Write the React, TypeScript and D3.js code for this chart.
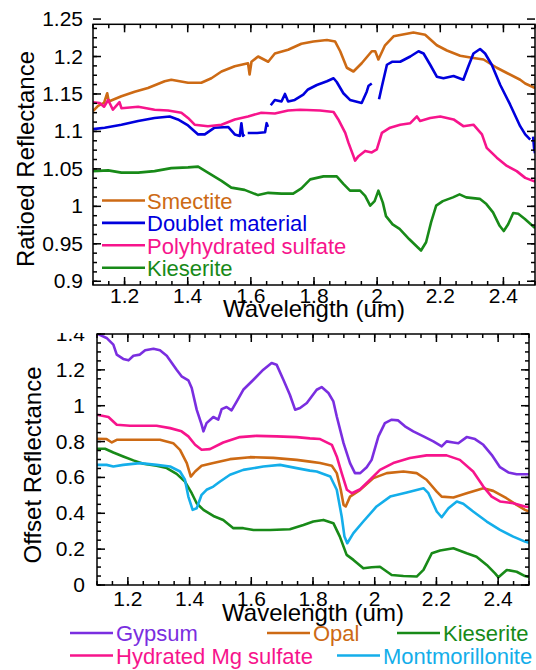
import React from 'react';
import * as d3 from 'd3';

type Pt = [number, number];

const FONT = "Arial, 'Liberation Sans', sans-serif";

// ---- top panel: ratioed spectra ----
const smectite: Pt[] = [
  [1.1, 1.127], [1.116, 1.134], [1.135, 1.138], [1.145, 1.151], [1.15, 1.14], [1.19, 1.147],
  [1.232, 1.153], [1.274, 1.158], [1.327, 1.167], [1.348, 1.169], [1.401, 1.165], [1.443, 1.165],
  [1.475, 1.171], [1.507, 1.18], [1.549, 1.187], [1.591, 1.191], [1.596, 1.176], [1.602, 1.193],
  [1.623, 1.2], [1.655, 1.193], [1.676, 1.204], [1.718, 1.209], [1.76, 1.217], [1.798, 1.22],
  [1.841, 1.222], [1.867, 1.22], [1.883, 1.207], [1.904, 1.185], [1.925, 1.18], [1.951, 1.191],
  [1.983, 1.207], [1.994, 1.207], [2.004, 1.196], [2.025, 1.215], [2.052, 1.227], [2.115, 1.232],
  [2.152, 1.229], [2.189, 1.215], [2.221, 1.208], [2.263, 1.201], [2.305, 1.198], [2.337, 1.196],
  [2.379, 1.185], [2.411, 1.178], [2.453, 1.169], [2.469, 1.164], [2.5, 1.158],
];

// doublet material has gaps, so it is kept as separate pieces
const doublet: Pt[][] = [
  [
    [1.1, 1.103], [1.137, 1.105], [1.19, 1.109], [1.243, 1.114], [1.295, 1.118], [1.343, 1.12],
    [1.369, 1.116], [1.401, 1.108], [1.433, 1.096], [1.454, 1.096], [1.485, 1.105], [1.528, 1.106],
    [1.549, 1.096], [1.565, 1.094], [1.57, 1.111], [1.575, 1.094], [1.58, 1.096],
  ],
  [[1.59, 1.098], [1.62, 1.098], [1.645, 1.099], [1.65, 1.111], [1.654, 1.106]],
  [
    [1.663, 1.135], [1.676, 1.142], [1.697, 1.14], [1.708, 1.15], [1.718, 1.14], [1.739, 1.142],
    [1.766, 1.149], [1.781, 1.156], [1.809, 1.162], [1.841, 1.167], [1.862, 1.171], [1.872, 1.166],
    [1.893, 1.151], [1.914, 1.142], [1.951, 1.138], [1.967, 1.153], [1.973, 1.161], [1.983, 1.164],
  ],
  [
    [2.006, 1.143], [2.015, 1.16], [2.031, 1.189], [2.047, 1.193], [2.073, 1.193], [2.105, 1.2],
    [2.131, 1.207], [2.147, 1.204], [2.168, 1.189], [2.189, 1.173], [2.21, 1.171], [2.242, 1.174],
    [2.273, 1.169], [2.289, 1.187], [2.305, 1.204], [2.326, 1.21], [2.342, 1.204], [2.363, 1.189],
    [2.39, 1.162], [2.421, 1.136], [2.453, 1.107], [2.469, 1.096], [2.485, 1.089],
  ],
  [[2.494, 1.093], [2.497, 1.078], [2.5, 1.071]],
];

const polySulfate: Pt[] = [
  [1.1, 1.139], [1.121, 1.138], [1.135, 1.133], [1.148, 1.142], [1.163, 1.129], [1.184, 1.139],
  [1.19, 1.131], [1.243, 1.133], [1.295, 1.129], [1.338, 1.128], [1.38, 1.125], [1.401, 1.118],
  [1.422, 1.109], [1.464, 1.107], [1.507, 1.109], [1.549, 1.116], [1.591, 1.12], [1.633, 1.125],
  [1.676, 1.124], [1.718, 1.128], [1.756, 1.129], [1.819, 1.128], [1.862, 1.126], [1.877, 1.116],
  [1.899, 1.098], [1.909, 1.085], [1.925, 1.067], [1.93, 1.061], [1.941, 1.067], [1.962, 1.074],
  [1.983, 1.072], [1.999, 1.076], [2.015, 1.098], [2.041, 1.105], [2.073, 1.109], [2.105, 1.111],
  [2.126, 1.12], [2.136, 1.114], [2.168, 1.118], [2.2, 1.12], [2.242, 1.116], [2.273, 1.107],
  [2.305, 1.109], [2.332, 1.096], [2.347, 1.078], [2.379, 1.065], [2.411, 1.054], [2.442, 1.047],
  [2.469, 1.038], [2.5, 1.033],
];

const kieseriteTop: Pt[] = [
  [1.1, 1.047], [1.148, 1.048], [1.19, 1.045], [1.243, 1.045], [1.295, 1.047], [1.348, 1.051],
  [1.401, 1.052], [1.433, 1.053], [1.464, 1.045], [1.507, 1.034], [1.538, 1.025], [1.58, 1.022],
  [1.623, 1.015], [1.655, 1.018], [1.697, 1.017], [1.734, 1.017], [1.76, 1.024], [1.788, 1.036],
  [1.83, 1.04], [1.872, 1.04], [1.893, 1.03], [1.914, 1.021], [1.946, 1.021], [1.962, 1.014],
  [1.978, 1.001], [1.992, 1.007], [2.004, 1.021], [2.018, 1.005], [2.028, 0.987], [2.049, 0.976],
  [2.071, 0.97], [2.102, 0.956], [2.129, 0.945], [2.139, 0.941], [2.155, 0.952], [2.171, 0.979],
  [2.187, 1.001], [2.208, 1.007], [2.24, 1.012], [2.261, 1.016], [2.282, 1.012], [2.325, 1.01],
  [2.346, 1.003], [2.367, 0.992], [2.388, 0.974], [2.401, 0.967], [2.415, 0.976], [2.431, 0.991],
  [2.447, 0.99], [2.468, 0.983], [2.5, 0.971],
];

// ---- bottom panel: library spectra, offset ----
const gypsum: Pt[] = [
  [1.1, 1.402], [1.131, 1.378], [1.153, 1.341], [1.164, 1.285], [1.185, 1.261], [1.202, 1.253],
  [1.218, 1.279], [1.239, 1.285], [1.256, 1.309], [1.283, 1.318], [1.304, 1.309], [1.326, 1.279],
  [1.358, 1.201], [1.374, 1.164], [1.396, 1.142], [1.407, 1.099], [1.423, 0.978], [1.439, 0.894],
  [1.445, 0.857], [1.455, 0.903], [1.477, 0.937], [1.493, 0.922], [1.504, 0.981], [1.52, 0.993],
  [1.536, 0.974], [1.553, 1.024], [1.574, 1.089], [1.607, 1.145], [1.639, 1.201], [1.666, 1.238],
  [1.682, 1.229], [1.704, 1.145], [1.725, 1.061], [1.742, 0.978], [1.758, 0.987], [1.78, 1.015],
  [1.812, 1.089], [1.828, 1.104], [1.85, 1.071], [1.866, 1.024], [1.877, 0.94], [1.899, 0.791],
  [1.92, 0.68], [1.936, 0.624], [1.953, 0.624], [1.974, 0.657], [1.99, 0.698], [2.012, 0.829],
  [2.033, 0.903], [2.055, 0.922], [2.076, 0.918], [2.098, 0.885], [2.125, 0.857], [2.158, 0.829],
  [2.19, 0.801], [2.217, 0.773], [2.233, 0.801], [2.255, 0.795], [2.271, 0.791], [2.298, 0.825],
  [2.325, 0.814], [2.352, 0.782], [2.379, 0.726], [2.406, 0.657], [2.433, 0.628], [2.46, 0.618],
  [2.487, 0.618], [2.5, 0.618],
];

const opal: Pt[] = [
  [1.1, 0.816], [1.131, 0.814], [1.148, 0.795], [1.164, 0.81], [1.239, 0.81], [1.304, 0.81],
  [1.347, 0.791], [1.369, 0.754], [1.391, 0.68], [1.404, 0.605], [1.418, 0.633], [1.439, 0.665],
  [1.477, 0.68], [1.531, 0.702], [1.596, 0.713], [1.671, 0.709], [1.747, 0.698], [1.79, 0.688],
  [1.823, 0.68], [1.861, 0.665], [1.877, 0.624], [1.89, 0.531], [1.899, 0.447], [1.906, 0.438],
  [1.92, 0.493], [1.953, 0.531], [1.996, 0.596], [2.039, 0.624], [2.093, 0.633], [2.136, 0.624],
  [2.168, 0.587], [2.201, 0.521], [2.217, 0.493], [2.255, 0.488], [2.298, 0.512], [2.352, 0.54],
  [2.384, 0.525], [2.427, 0.484], [2.46, 0.447], [2.487, 0.419], [2.5, 0.41],
];

const kieseriteLib: Pt[] = [
  [1.1, 0.76], [1.126, 0.76], [1.153, 0.739], [1.185, 0.717], [1.218, 0.695], [1.25, 0.676],
  [1.293, 0.665], [1.326, 0.652], [1.358, 0.62], [1.385, 0.577], [1.407, 0.512], [1.423, 0.456],
  [1.445, 0.419], [1.477, 0.385], [1.509, 0.363], [1.542, 0.317], [1.574, 0.317], [1.607, 0.307],
  [1.661, 0.307], [1.725, 0.311], [1.769, 0.335], [1.801, 0.354], [1.834, 0.363], [1.866, 0.345],
  [1.887, 0.27], [1.909, 0.168], [1.931, 0.14], [1.963, 0.093], [1.99, 0.099], [2.017, 0.102],
  [2.055, 0.056], [2.093, 0.05], [2.136, 0.047], [2.158, 0.084], [2.185, 0.177], [2.212, 0.192],
  [2.255, 0.205], [2.298, 0.177], [2.33, 0.158], [2.363, 0.112], [2.39, 0.065], [2.401, 0.043],
  [2.428, 0.084], [2.46, 0.074], [2.487, 0.05], [2.5, 0.045],
];

const mgSulfate: Pt[] = [
  [1.1, 0.95], [1.137, 0.937], [1.164, 0.894], [1.207, 0.888], [1.293, 0.888], [1.337, 0.875],
  [1.374, 0.857], [1.396, 0.829], [1.418, 0.782], [1.439, 0.754], [1.466, 0.758], [1.509, 0.795],
  [1.563, 0.825], [1.617, 0.832], [1.682, 0.829], [1.747, 0.825], [1.79, 0.818], [1.823, 0.814],
  [1.861, 0.782], [1.877, 0.717], [1.893, 0.624], [1.91, 0.531], [1.926, 0.512], [1.953, 0.534],
  [1.985, 0.587], [2.017, 0.642], [2.06, 0.68], [2.114, 0.708], [2.168, 0.723], [2.233, 0.723],
  [2.276, 0.698], [2.319, 0.633], [2.352, 0.549], [2.379, 0.493], [2.406, 0.466], [2.449, 0.456],
  [2.487, 0.438], [2.5, 0.435],
];

const montmorillonite: Pt[] = [
  [1.1, 0.67], [1.131, 0.67], [1.153, 0.661], [1.185, 0.67], [1.239, 0.68], [1.293, 0.67],
  [1.337, 0.661], [1.369, 0.633], [1.385, 0.587], [1.396, 0.493], [1.41, 0.419], [1.423, 0.428],
  [1.439, 0.503], [1.455, 0.531], [1.477, 0.549], [1.499, 0.577], [1.531, 0.615], [1.574, 0.642],
  [1.639, 0.661], [1.693, 0.67], [1.747, 0.652], [1.79, 0.638], [1.812, 0.633], [1.856, 0.605],
  [1.877, 0.531], [1.893, 0.382], [1.902, 0.27], [1.911, 0.233], [1.931, 0.289], [1.963, 0.354],
  [2.006, 0.438], [2.05, 0.493], [2.104, 0.516], [2.158, 0.54], [2.174, 0.512], [2.201, 0.41],
  [2.217, 0.378], [2.239, 0.428], [2.266, 0.466], [2.287, 0.453], [2.319, 0.41], [2.363, 0.354],
  [2.406, 0.307], [2.449, 0.27], [2.487, 0.242], [2.5, 0.235],
];

const C = {
  orange: '#cd6a14',
  blue: '#0000dd',
  pink: '#f7148c',
  green: '#188a18',
  purple: '#7a2ee0',
  sky: '#14aeea',
};

const topSeries = [
  { name: 'Smectite', color: C.orange, parts: [smectite] },
  { name: 'Doublet material', color: C.blue, parts: doublet },
  { name: 'Polyhydrated sulfate', color: C.pink, parts: [polySulfate] },
  { name: 'Kieserite', color: C.green, parts: [kieseriteTop] },
];

const bottomSeries = [
  { name: 'Gypsum', color: C.purple, parts: [gypsum] },
  { name: 'Opal', color: C.orange, parts: [opal] },
  { name: 'Kieserite', color: C.green, parts: [kieseriteLib] },
  { name: 'Hydrated Mg sulfate', color: C.pink, parts: [mgSulfate] },
  { name: 'Montmorillonite', color: C.sky, parts: [montmorillonite] },
];

// bottom legend placement: [lineStart, row]
const bottomLegendPos: [number, number][] = [[70, 0], [267, 0], [397, 0], [70, 1], [337, 1]];

const fmt = (v: number) => String(+v.toFixed(3));

type Series = { name: string; color: string; parts: Pt[][] };

function Panel(props: {
  id: string;
  x: d3.ScaleLinear<number, number>;
  y: d3.ScaleLinear<number, number>;
  series: Series[];
  xMajor: number[];
  xMinor: number[];
  yMajor: number[];
  yMinor: number[];
  xLabelY: number;
  yLabelGap: number;
  xTitleY: number;
  yTitle: string;
  yTitleX: number;
  yTitleY: number;
  labelClipTop: number;
}) {
  const { id, x, y, series } = props;
  const [x0, x1] = x.range();
  const [y0, y1] = y.range(); // y0 bottom, y1 top
  const line = d3.line<Pt>().x(d => x(d[0])).y(d => y(d[1]));
  const maj = 8, min = 4;
  return (
    <g>
      <defs>
        <clipPath id={`${id}-plot`}>
          <rect x={x0} y={y1} width={x1 - x0} height={y0 - y1} />
        </clipPath>
        <clipPath id={`${id}-lab`}>
          <rect x={0} y={props.labelClipTop} width={536} height={670} />
        </clipPath>
      </defs>
      <g clipPath={`url(#${id}-plot)`} fill="none" strokeWidth={2.6} strokeLinejoin="round">
        {series.map(s =>
          s.parts.map((p, i) => <path key={s.name + i} d={line(p) || ''} stroke={s.color} />)
        )}
      </g>
      <g stroke="#000" strokeWidth={1.5}>
        <rect x={x0} y={y1} width={x1 - x0} height={y0 - y1} fill="none" />
        {props.xMinor.map(v => (
          <g key={'xm' + v}>
            <line x1={x(v)} x2={x(v)} y1={y0} y2={y0 - min} />
            <line x1={x(v)} x2={x(v)} y1={y1} y2={y1 + min} />
          </g>
        ))}
        {props.xMajor.map(v => (
          <g key={'xM' + v}>
            <line x1={x(v)} x2={x(v)} y1={y0} y2={y0 - maj} />
            <line x1={x(v)} x2={x(v)} y1={y1} y2={y1 + maj} />
          </g>
        ))}
        {props.yMinor.map(v => (
          <g key={'ym' + v}>
            <line x1={x0} x2={x0 + min} y1={y(v)} y2={y(v)} />
            <line x1={x1} x2={x1 - min} y1={y(v)} y2={y(v)} />
          </g>
        ))}
        {props.yMajor.map(v => (
          <g key={'yM' + v}>
            <line x1={x0} x2={x0 + maj} y1={y(v)} y2={y(v)} />
            <line x1={x1} x2={x1 - maj} y1={y(v)} y2={y(v)} />
          </g>
        ))}
      </g>
      <g fontFamily={FONT} fontSize={21} fill="#000" clipPath={`url(#${id}-lab)`}>
        {props.yMajor.map(v => (
          <text key={'yl' + v} x={x0 - props.yLabelGap} y={y(v) + 7} textAnchor="end">
            {fmt(v)}
          </text>
        ))}
        {props.xMajor.map(v => (
          <text key={'xl' + v} x={x(v)} y={props.xLabelY} textAnchor="middle">
            {fmt(v)}
          </text>
        ))}
      </g>
      <g fontFamily={FONT} fontSize={24} fill="#000">
        <text x={(x0 + x1) / 2} y={props.xTitleY} textAnchor="middle">
          Wavelength (um)
        </text>
        <text
          transform={`translate(${props.yTitleX},${props.yTitleY}) rotate(-90)`}
          textAnchor="middle"
        >
          {props.yTitle}
        </text>
      </g>
    </g>
  );
}

export default function App() {
  const xTop = d3.scaleLinear().domain([1.1, 2.5]).range([93, 535]);
  const yTop = d3.scaleLinear().domain([0.895, 1.243]).range([285, 24.3]);
  const xBot = d3.scaleLinear().domain([1.1, 2.5]).range([97, 529]);
  const yBot = d3.scaleLinear().domain([0, 1.4]).range([585, 334]);

  const xMajor = xTop.ticks(7).filter(v => v > 1.1 && v < 2.5);
  const xMinor = d3.range(1.1, 2.5001, 0.05).map(v => +v.toFixed(3));
  const yTopMajor = d3.range(0.9, 1.2501, 0.05).map(v => +v.toFixed(3));
  const yTopMinor = d3.range(0.9, 1.2401, 0.0125).map(v => +v.toFixed(4));
  const yBotMajor = d3.range(0, 1.4001, 0.2).map(v => +v.toFixed(3));
  const yBotMinor = d3.range(0, 1.4001, 0.05).map(v => +v.toFixed(3));

  return (
    <svg
      width={536}
      height={670}
      style={{ position: 'absolute', left: 0, top: 0, background: '#fff' }}
    >
      <rect width={536} height={670} fill="#fff" />
      <Panel
        id="top"
        x={xTop}
        y={yTop}
        series={topSeries}
        xMajor={xMajor}
        xMinor={xMinor}
        yMajor={yTopMajor}
        yMinor={yTopMinor.filter(v => v >= 0.895)}
        xLabelY={303}
        yLabelGap={10}
        xTitleY={317}
        yTitle="Ratioed Reflectance"
        yTitleX={34}
        yTitleY={159}
        labelClipTop={0}
      />
      <g fontFamily={FONT} fontSize={22}>
        {topSeries.map((s, i) => {
          const base = 209 + i * 22.4;
          return (
            <g key={s.name}>
              <line x1={102} x2={145} y1={base - 8.5} y2={base - 8.5} stroke={s.color} strokeWidth={2.6} />
              <text x={147} y={base} fill={s.color}>
                {s.name}
              </text>
            </g>
          );
        })}
      </g>
      <Panel
        id="bot"
        x={xBot}
        y={yBot}
        series={bottomSeries}
        xMajor={xMajor}
        xMinor={xMinor}
        yMajor={yBotMajor}
        yMinor={yBotMinor}
        xLabelY={606}
        yLabelGap={12}
        xTitleY={621}
        yTitle="Offset Reflectance"
        yTitleX={41}
        yTitleY={465}
        labelClipTop={333}
      />
      <g fontFamily={FONT} fontSize={22}>
        {bottomSeries.map((s, i) => {
          const [lx, row] = bottomLegendPos[i];
          const base = 641 + row * 22.5;
          return (
            <g key={s.name}>
              <line x1={lx} x2={lx + 43} y1={base - 8} y2={base - 8} stroke={s.color} strokeWidth={2.6} />
              <text x={lx + 46} y={base} fill={s.color}>
                {s.name}
              </text>
            </g>
          );
        })}
      </g>
    </svg>
  );
}
